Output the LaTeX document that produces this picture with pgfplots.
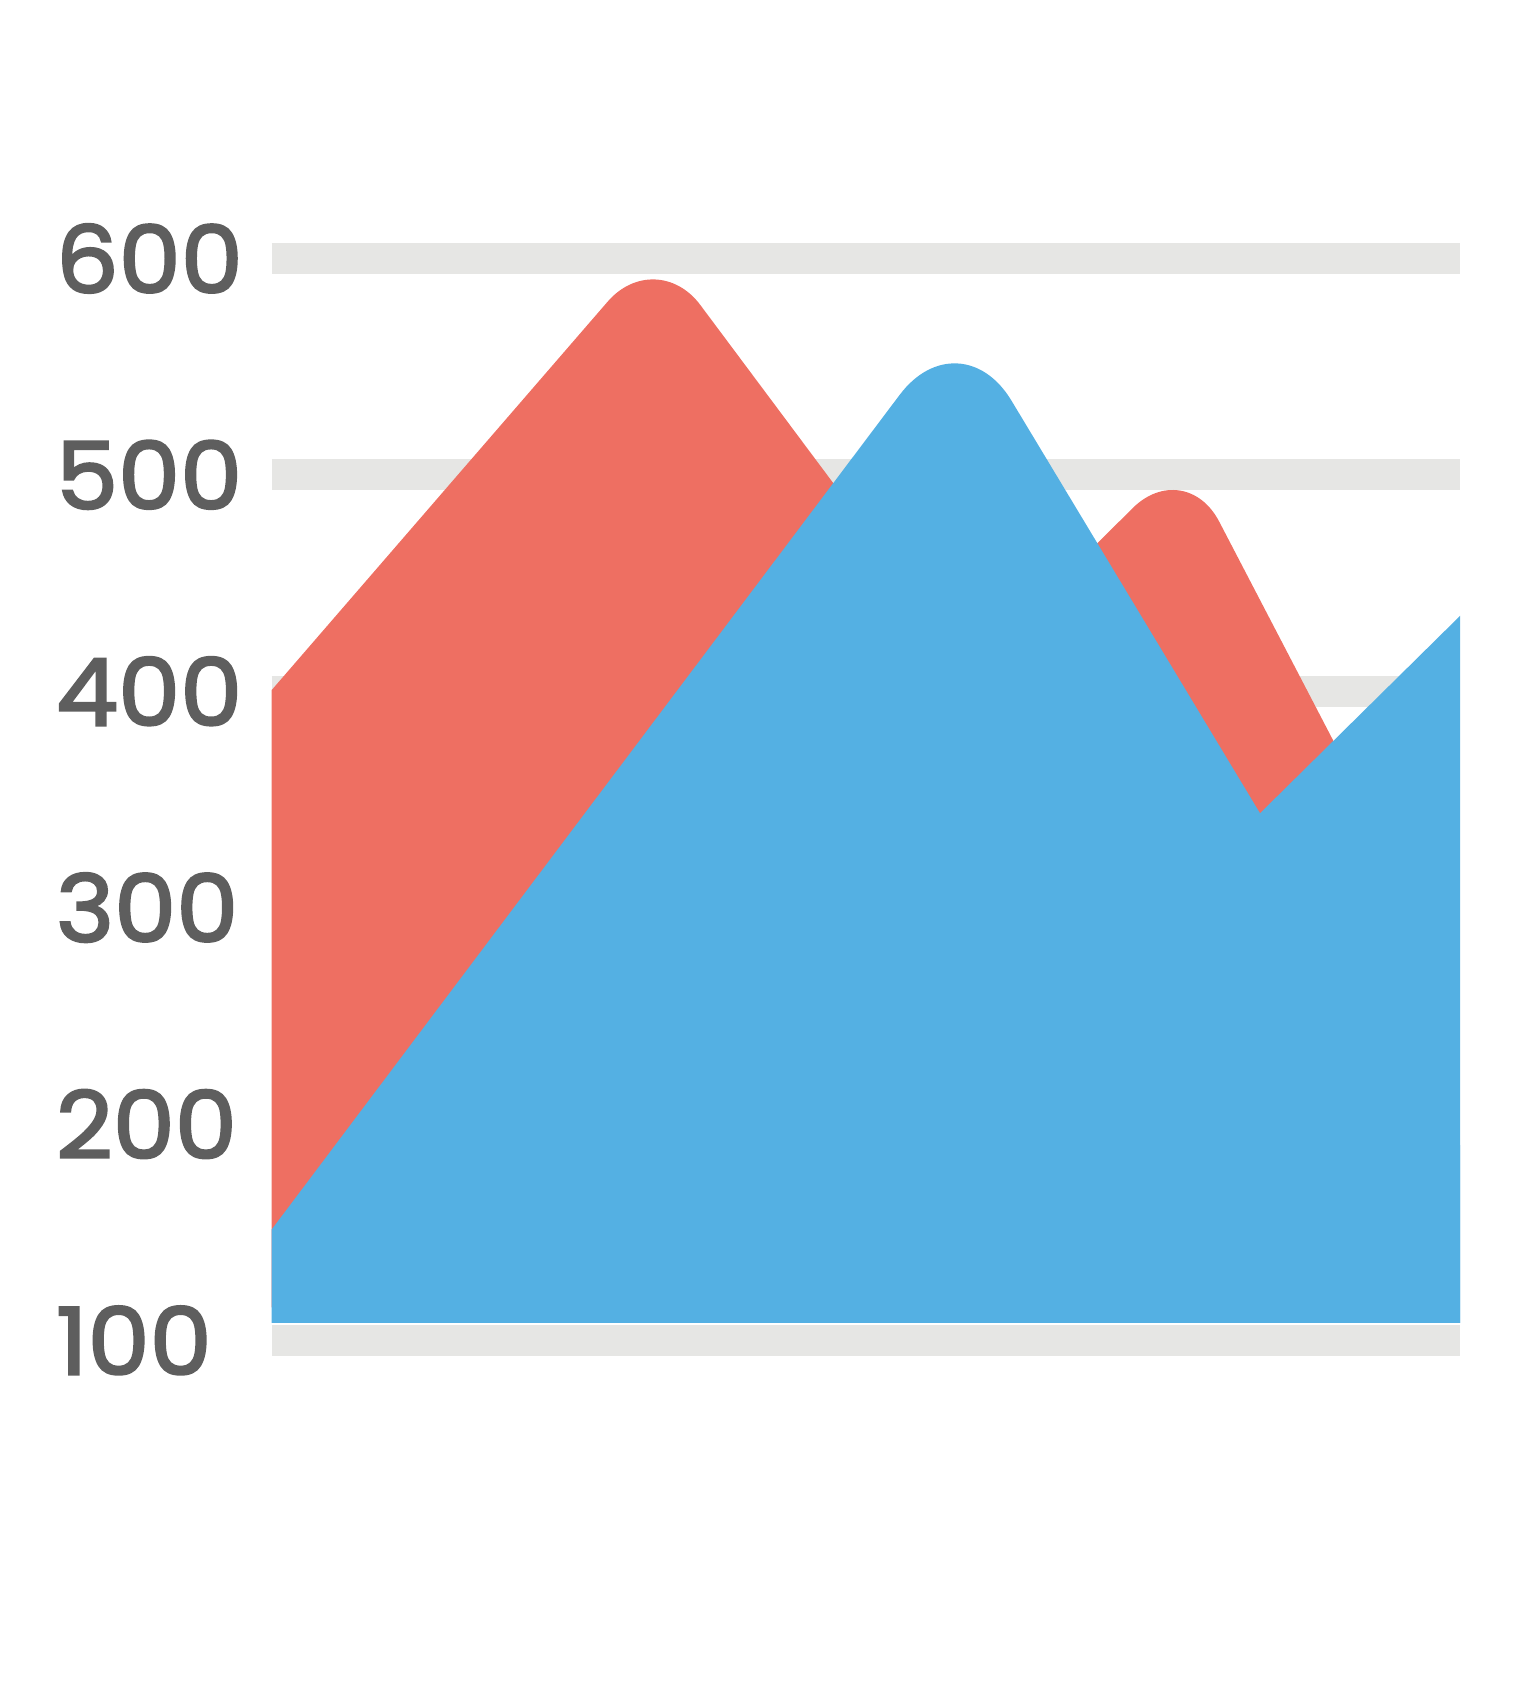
\documentclass[border=0pt]{standalone}
\usepackage{pgfplots}
\pgfplotsset{compat=1.18}
\usepackage{fontspec}
\setmainfont{Poppins}
\newfontfamily\lblfont{Poppins}[FakeBold=2.5, FakeStretch=1.06]
\definecolor{redA}{HTML}{EE6F62}
\definecolor{blueA}{HTML}{54B0E3}
\definecolor{band}{HTML}{E6E6E4}
\definecolor{lbl}{HTML}{5E5E5E}
\begin{document}
\begin{tikzpicture}
\path[use as bounding box] (0,0) rectangle (380pt,425pt);
\begin{axis}[
  at={(67.9pt,84.5pt)}, anchor=south west,
  scale only axis, width=297.1pt, height=286.7pt,
  xmin=0, xmax=100, ymin=90, ymax=620,
  axis line style={draw=none},
  xtick=\empty,
  ytick={100,200,300,400,500,600},
  major tick length=0pt,
  /pgf/number format/assume math mode=true,
  yticklabel style={font=\lblfont\fontsize{23.3}{28}\selectfont, text=lbl, anchor=west, inner sep=0pt, xshift=-54.1pt},
]
% grid bands
\addplot[draw=band, line width=7.75pt] coordinates {(0,100) (100,100)};
\addplot[draw=band, line width=7.75pt] coordinates {(0,200) (100,200)};
\addplot[draw=band, line width=7.75pt] coordinates {(0,300) (100,300)};
\addplot[draw=band, line width=7.75pt] coordinates {(0,400) (100,400)};
\addplot[draw=band, line width=7.75pt] coordinates {(0,500) (100,500)};
\addplot[draw=band, line width=7.75pt] coordinates {(0,600) (100,600)};
% red series (its right end is hidden under the blue area)
\addplot[fill=redA, draw=none, rounded corners=18.5pt] coordinates {(-46.05,108.1) (32.35,605.9) (58.90,410.5) (76.86,508.7) (95,317.4) (95,130)};
% blue series (two parts so the valley stays sharp)
\addplot[fill=blueA, draw=none, rounded corners=25pt] coordinates {(-5.9,108.1) (57.91,573.9) (109.0,108.1)};
\addplot[fill=blueA, draw=none] coordinates {(39.71,108.1) (83.17,343.6) (100,434.8) (115,516.1) (115,108.1)};
\end{axis}
\end{tikzpicture}
\end{document}
